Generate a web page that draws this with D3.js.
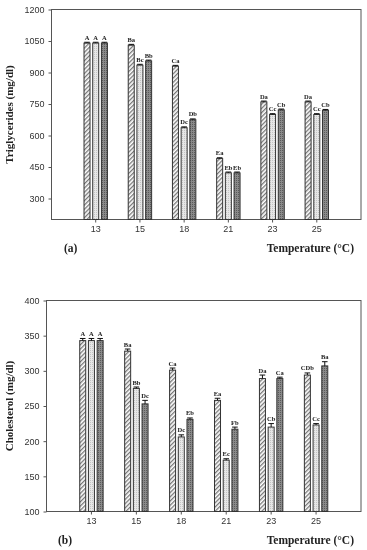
<!DOCTYPE html>
<html lang="en">
<head>
<meta charset="UTF-8">
<title>Triglycerides and cholesterol vs temperature</title>
<script src="https://d3js.org/d3.v7.min.js"></script>
<style>
    body { margin: 0; padding: 0; background: #fff; }
    svg { will-change: transform; }
    .tick text { font-family: 'Liberation Sans', Arial, sans-serif; font-size: 9px; fill: #333; }
    .tick line, .domain { stroke: #555; }
    .ttl { font-family: 'Liberation Serif', 'DejaVu Serif', serif; font-weight: bold; fill: #222; }
    .lbl { font-family: 'Liberation Serif', 'DejaVu Serif', serif; font-weight: bold; font-size: 6.5px; fill: #222; }
</style>
</head>
<body>
<div id="chart"></div>
<script>
// temperatures (°C)
var temps = ["13", "15", "18", "21", "23", "25"];

// panel (a) triglycerides (mg/dl), three treatments per temperature
var tgHatch = [1040, 1030, 930, 490, 760, 760];
var tgLight = [1040, 935, 637, 422, 700, 700];
var tgDark  = [1040, 955, 675, 422, 722, 720];
var tgErr   = [4, 4, 4, 4, 4, 4];
var tgLabels = [["A","A","A"], ["Ba","Bc","Bb"], ["Ca","Dc","Db"], ["Ea","Eb","Eb"], ["Da","Cc","Cb"], ["Da","Cc","Cb"]];
var tgTicks = [300, 450, 600, 750, 900, 1050, 1200];

// panel (b) cholesterol (mg/dl)
var chHatch = [343, 328, 301, 258, 289, 294];
var chLight = [343, 275, 206, 173, 220, 223];
var chDark  = [343, 253, 231, 217, 289, 307];
var chHatchErr = [3, 3, 3, 3, 5, 3];
var chLightErr = [3, 2, 3, 2, 5, 2];
var chDarkErr  = [3, 5, 2, 3, 2, 6];
var chLabels = [["A","A","A"], ["Ba","Bb","Dc"], ["Ca","Dc","Eb"], ["Ea","Ec","Fb"], ["Da","Cb","Ca"], ["CDb","Cc","Ba"]];
var chTicks = [100, 150, 200, 250, 300, 350, 400];

var width = 367, height = 550;

var svg = d3.select("#chart").append("svg")
    .attr("width", width)
    .attr("height", height);

// fill patterns for the three bar types
var defs = svg.append("defs");
var hatch = defs.append("pattern").attr("id", "hatch")
    .attr("patternUnits", "userSpaceOnUse").attr("width", 3).attr("height", 3)
    .attr("patternTransform", "rotate(45)");
hatch.append("rect").attr("width", 3).attr("height", 3).attr("fill", "#fff");
hatch.append("rect").attr("width", 1.3).attr("height", 3).attr("fill", "#777");

var light = defs.append("pattern").attr("id", "light")
    .attr("patternUnits", "userSpaceOnUse").attr("width", 2).attr("height", 2);
light.append("rect").attr("width", 2).attr("height", 2).attr("fill", "#e6e6e6");
light.append("rect").attr("width", 1).attr("height", 1).attr("fill", "#c4c4c4");

var dark = defs.append("pattern").attr("id", "dark")
    .attr("patternUnits", "userSpaceOnUse").attr("width", 2).attr("height", 2);
dark.append("rect").attr("width", 2).attr("height", 2).attr("fill", "#8a8a8a");
dark.append("rect").attr("width", 1).attr("height", 1).attr("fill", "#5a5a5a");

function drawPanel(opt) {
    var g = svg.append("g");

    var x = d3.scaleBand()
        .domain(temps)
        .range([opt.left + (opt.right - opt.left) / 14, opt.right - (opt.right - opt.left) / 14]);

    var y = d3.scaleLinear()
        .domain(opt.domain)
        .range([opt.bottom, opt.top]);

    // frame
    g.append("rect")
        .attr("x", opt.left).attr("y", opt.top)
        .attr("width", opt.right - opt.left).attr("height", opt.bottom - opt.top)
        .attr("fill", "none").attr("stroke", "#555").attr("stroke-width", 1);

    var series = [
        { vals: opt.hatch, err: opt.errs[0], fill: "url(#hatch)", off: -8.7 },
        { vals: opt.light, err: opt.errs[1], fill: "url(#light)", off: 0 },
        { vals: opt.dark,  err: opt.errs[2], fill: "url(#dark)",  off: 8.7 }
    ];
    var bw = 6;

    series.forEach(function(s, si) {
        var cx = function(i) { return x(temps[i]) + x.bandwidth() / 2 + s.off; };

        g.selectAll(".bar" + si)
            .data(s.vals)
            .enter().append("rect")
            .attr("x", function(d, i) { return cx(i) - bw / 2; })
            .attr("y", function(d) { return y(d); })
            .attr("width", bw)
            .attr("height", function(d) { return y(opt.domain[0]) - y(d); })
            .attr("fill", s.fill)
            .attr("stroke", "#333")
            .attr("stroke-width", 1);

        // error bars (upper half only)
        g.selectAll(".err" + si)
            .data(s.vals)
            .enter().append("path")
            .attr("d", function(d, i) {
                var x0 = cx(i), yt = y(d + s.err[i]);
                return "M" + x0 + "," + y(d) + "V" + yt + "M" + (x0 - 2.8) + "," + yt + "H" + (x0 + 2.8);
            })
            .attr("stroke", "#111")
            .attr("stroke-width", 1)
            .attr("fill", "none");

        g.selectAll(".lbl" + si)
            .data(s.vals)
            .enter().append("text")
            .attr("class", "lbl")
            .attr("x", function(d, i) { return cx(i); })
            .attr("y", function(d, i) { return y(d + s.err[i]) - 2.5; })
            .attr("text-anchor", "middle")
            .text(function(d, i) { return opt.labels[i][si]; });
    });

    // axes
    g.append("g")
        .attr("transform", "translate(0," + opt.bottom + ")")
        .call(d3.axisBottom(x).tickSize(3).tickPadding(3).tickSizeOuter(0))
        .call(function(a) { a.select(".domain").remove(); });

    g.append("g")
        .attr("transform", "translate(" + opt.left + ",0)")
        .call(d3.axisLeft(y).tickValues(opt.ticks).tickFormat(d3.format("d"))
            .tickSize(3).tickPadding(4).tickSizeOuter(0))
        .call(function(a) { a.select(".domain").remove(); });

    // axis titles
    g.append("text")
        .attr("class", "ttl")
        .attr("transform", "translate(13," + ((opt.top + opt.bottom) / 2) + ") rotate(-90)")
        .attr("text-anchor", "middle")
        .style("font-size", "11px")
        .text(opt.yTitle);

    g.append("text")
        .attr("class", "ttl")
        .attr("x", 354)
        .attr("y", opt.bottom + 32)
        .attr("text-anchor", "end")
        .style("font-size", "11.5px")
        .text("Temperature (°C)");

    g.append("text")
        .attr("class", "ttl")
        .attr("x", opt.tagX)
        .attr("y", opt.bottom + 32)
        .style("font-size", "11.5px")
        .text(opt.tag);
}

drawPanel({
    left: 51.5, right: 361, top: 9.5, bottom: 219.5,
    domain: [200, 1200], ticks: tgTicks,
    hatch: tgHatch, light: tgLight, dark: tgDark,
    errs: [tgErr, tgErr, tgErr], labels: tgLabels,
    yTitle: "Triglycerides (mg/dl)", tag: "(a)", tagX: 64
});

drawPanel({
    left: 46.5, right: 361, top: 300.5, bottom: 511.5,
    domain: [100, 400], ticks: chTicks,
    hatch: chHatch, light: chLight, dark: chDark,
    errs: [chHatchErr, chLightErr, chDarkErr], labels: chLabels,
    yTitle: "Cholesterol (mg/dl)", tag: "(b)", tagX: 58
});
</script>
</body>
</html>
